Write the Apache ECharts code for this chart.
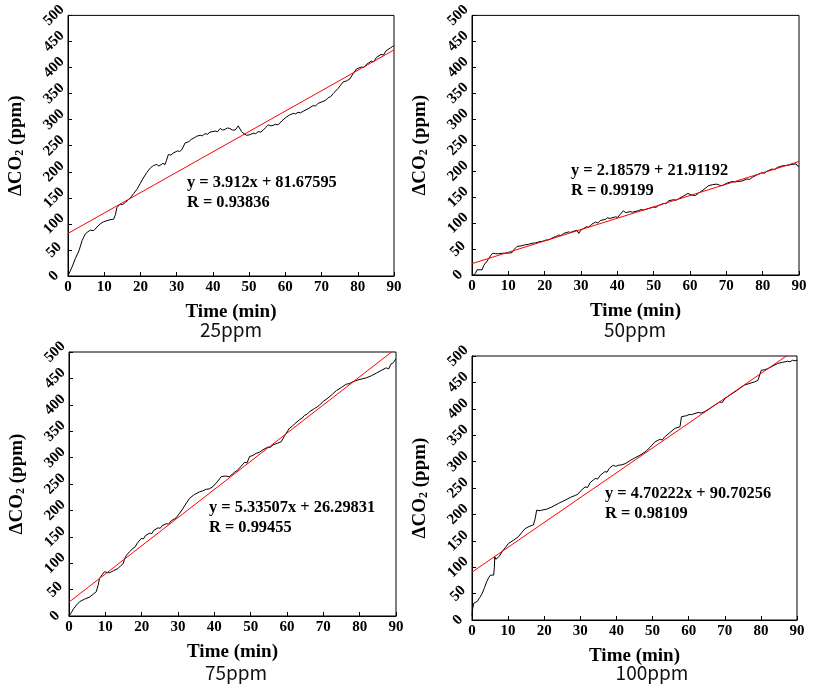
<!DOCTYPE html>
<html>
<head>
<meta charset="utf-8">
<script src="https://cdn.jsdelivr.net/npm/echarts@6/dist/echarts.min.js"></script>
<style>html,body{margin:0;padding:0;background:#fff;}#c{width:813px;height:684px;}</style>
</head>
<body>
<div id="c"></div>
<script>
// ---- data ----
const panelNames = ['25ppm', '50ppm', '75ppm', '100ppm'];
const xTicks = [0, 10, 20, 30, 40, 50, 60, 70, 80, 90];
const yTicks = [0, 50, 100, 150, 200, 250, 300, 350, 400, 450, 500];

const curve25 = [[0,0],[0.5,8],[1.1,17],[2,33],[3,48],[3.9,68],[4.8,81],[5.5,85],[6.2,88],[6.6,86],[7.1,87],[8,94],[8.9,100],[9.8,104],[10.7,106],[11.6,108],[12.6,109],[13.1,118],[13.5,131],[14.4,138],[15.1,137],[15.8,141],[16.5,145],[17.2,150],[18.1,158],[19,166],[19.9,177],[20.8,188],[21.7,198],[22.7,207],[23.6,212],[24.5,214],[25.1,211],[25.6,212],[26.2,216],[26.8,214],[27.2,222],[27.7,233],[28.4,232],[29.1,236],[29.6,234],[30.2,240],[30.8,239],[31.4,242],[32.3,255],[33.4,258],[34,262],[34.6,264],[35.5,268],[36.5,270],[37.1,269],[37.8,273],[38.5,272],[39.2,276],[40.6,278],[41.3,277],[42,283],[42.7,280],[43.3,281],[44,284],[44.7,283],[45.4,280],[46.1,280],[46.6,284],[47,288],[47.5,282],[47.9,277],[48.6,273],[49.3,270],[50.2,271],[51.1,274],[51.8,273],[52.5,277],[53.2,276],[53.9,280],[54.6,285],[55.3,290],[56,288],[56.6,289],[57.3,291],[58,290],[59.1,298],[60.3,305],[61.2,309],[62.2,312],[62.8,311],[63.5,314],[64.2,313],[64.9,316],[66.3,321],[67.7,327],[68.3,326],[69,331],[70.4,335],[71.1,337],[71.8,342],[72.5,344],[73.2,350],[74.6,360],[75.9,372],[76.8,374],[77.8,378],[78.7,388],[79.6,397],[80.3,399],[81,401],[81.7,400],[82.4,406],[83.7,412],[84.4,411],[85.1,419],[86.4,425],[87.1,424],[87.8,432],[88.9,437],[89.5,440],[90,442]];

const curve50 = [[0.5,0],[1,4],[1.4,10],[2.2,10],[2.8,10],[3.2,18],[3.7,23],[4.2,27],[4.6,32],[5.2,38],[5.7,42],[6.5,41],[7.3,41],[8.5,42],[9.7,42],[11,43],[11.7,50],[12.4,55],[13.5,56],[14.5,58],[15,57],[15.5,59],[16.5,61],[17,60],[17.5,62],[18.5,64],[19.5,65],[20.2,67],[20.7,69],[21.2,68],[22.3,72],[23.1,74],[23.9,77],[24.5,76],[25.2,80],[26.6,83],[27.2,82],[27.8,84],[28.9,86],[29.4,80],[29.9,86],[30.3,89],[31.5,93],[32.1,92],[32.8,97],[34,102],[34.6,100],[35.3,105],[36.7,107],[37.3,110],[38,109],[39.5,112],[40.1,111],[40.7,116],[41.7,124],[42.2,120],[42.7,118],[43.5,122],[44.2,121],[45.9,124],[46.5,126],[47.2,125],[48.6,128],[50,131],[50.6,130],[51.4,134],[52.8,138],[53.4,137],[54.1,143],[55.5,145],[56.2,144],[56.9,147],[58.2,152],[59.4,157],[60.5,154],[61.5,153],[62.4,158],[63.3,162],[64.2,167],[65.1,172],[66.2,174],[67.4,175],[68.1,173],[68.8,172],[70.2,177],[71.6,180],[72.3,179],[73,180],[74.3,181],[75.7,185],[76.4,184],[77.1,188],[78.5,193],[79.8,197],[80.5,196],[81.2,200],[82.6,204],[83.3,203],[84,207],[85.3,210],[86.7,211],[88.1,213],[89.2,214],[89.6,210],[90,209]];

const curve75 = [[0,0],[0.6,6],[1.3,14],[2.1,21],[2.9,27],[4.3,32],[5.7,36],[6.6,41],[7.5,46],[8,58],[8.4,71],[9.1,78],[9.8,84],[10.5,82],[11.2,82],[12.3,86],[13.5,90],[14.2,95],[14.9,99],[15.3,108],[15.8,115],[16.7,122],[17.6,128],[18.2,131],[18.8,138],[19.9,147],[20.5,146],[21,152],[22.2,157],[22.8,156],[23.3,162],[24.5,167],[25.1,166],[25.6,171],[26.8,175],[27.4,174],[28.1,180],[29.5,186],[30.5,195],[31.4,204],[32.3,214],[33.2,223],[34.5,230],[35.9,235],[36.8,237],[37.8,240],[38.7,241],[39.6,245],[40.8,254],[41.9,264],[43,265],[44.2,264],[45.5,272],[46.2,275],[46.9,280],[48.3,291],[49,290],[49.7,302],[50.6,304],[51.5,308],[52.4,310],[53.4,315],[54.8,320],[55.4,319],[56.1,324],[57.3,327],[58.4,330],[59.5,343],[60.7,356],[61.4,359],[62.1,364],[63.5,372],[64.2,375],[64.8,380],[65.5,382],[66.2,387],[67.6,393],[68.3,396],[69,400],[70.1,407],[71.3,413],[72.5,420],[73.6,427],[75,433],[76.3,439],[77.1,440],[77.9,443],[79.5,447],[80.6,449],[81.8,451],[83.2,455],[84.6,460],[85.9,465],[87.3,470],[88,468],[88.6,477],[89.3,480],[90,487]];

const curve100 = [[0,8],[0.2,22],[0.5,32],[1,34],[1.4,35],[2.1,42],[2.8,50],[3.5,62],[4.1,73],[4.6,80],[5.1,85],[5.6,84],[6,85],[6.2,100],[6.3,120],[6.6,115],[6.9,113],[7.6,121],[8.3,129],[9.2,137],[10.1,145],[11.5,151],[12.9,158],[13.8,166],[14.7,173],[15.8,177],[17,180],[17.5,192],[17.9,208],[18.6,207],[19.3,208],[20.7,210],[22.1,214],[24,221],[25.8,227],[27.2,232],[28.6,236],[29.3,238],[30,244],[31.3,252],[32,251],[32.7,260],[34.1,268],[34.8,267],[35.5,274],[36.8,281],[37.4,280],[38,287],[39.1,293],[39.8,291],[40.5,293],[41.5,294],[42.4,296],[43.8,302],[45.1,307],[46.5,312],[47.9,318],[49.3,327],[50.6,337],[52,342],[52.7,341],[53.4,347],[54.8,355],[56.2,363],[57.6,366],[58,385],[59.4,387],[60.1,389],[60.8,389],[62.6,393],[63.5,392],[64.5,395],[65.9,401],[67.2,407],[68.6,413],[69.3,412],[70,419],[71.4,426],[72.8,432],[74.2,439],[75.5,445],[76.4,447],[77.3,449],[78.3,451],[79.2,454],[79.7,465],[80.1,473],[81,474],[81.9,476],[83.3,481],[84.7,486],[86,488],[87.4,490],[88.1,489],[88.7,492],[89.4,491],[90,492]];

const fitSlopes = [3.912, 2.18579, 5.33507, 4.70222];
const fitIntercepts = [81.67595, 21.91192, 26.29831, 90.70256];
const eqTexts = ['y = 3.912x + 81.67595', 'y = 2.18579 + 21.91192', 'y = 5.33507x + 26.29831', 'y = 4.70222x + 90.70256'];
const rTexts = ['R = 0.93836', 'R = 0.99199', 'R = 0.99455', 'R = 0.98109'];

// ---- layout ----
const curves = [curve25, curve50, curve75, curve100];
const grids = [
  {left: 68, top: 12, width: 326, height: 264},
  {left: 472, top: 13, width: 327, height: 262},
  {left: 69, top: 352, width: 327, height: 264},
  {left: 472, top: 356, width: 325, height: 264}
];
const eqPos = [[187, 183], [571, 171], [209, 508], [605, 494]];
const subPos = [[231, 330], [635, 330], [236, 673], [652, 673]];

const SERIF = '"Liberation Serif", "Times New Roman", serif';

const option = {
  animation: false,
  backgroundColor: '#fff',
  grid: grids.map(g => Object.assign({show: true, borderColor: '#000', borderWidth: 1, containLabel: false}, g)),
  xAxis: grids.map((g, i) => ({
    type: 'value', gridIndex: i, min: 0, max: 90, interval: 10,
    name: 'Time (min)', nameLocation: 'middle', nameGap: 27,
    nameTextStyle: {fontFamily: SERIF, fontWeight: 'bold', fontSize: 19, color: '#000'},
    axisLine: {show: true, lineStyle: {color: '#000', width: 1}},
    axisTick: {show: true, inside: true, length: 4, lineStyle: {color: '#000'}},
    axisLabel: {fontFamily: SERIF, fontWeight: 'bold', fontSize: 15, color: '#000', margin: 4,
      formatter: v => xTicks.includes(v) ? String(v) : ''},
    splitLine: {show: false}
  })),
  yAxis: grids.map((g, i) => ({
    type: 'value', gridIndex: i, min: 0, max: 500, interval: 50,
    name: '{a|ΔCO}{s|2}{a| (ppm)}', nameLocation: 'middle', nameGap: 42,
    nameTextStyle: {
      color: '#000',
      rich: {
        a: {fontFamily: SERIF, fontWeight: 'bold', fontSize: 19, color: '#000'},
        s: {fontFamily: SERIF, fontWeight: 'bold', fontSize: 12, color: '#000', verticalAlign: 'bottom', padding: [8, 0, 0, 0]}
      }
    },
    axisLine: {show: true, lineStyle: {color: '#000', width: 1}},
    axisTick: {show: true, inside: true, length: 4, lineStyle: {color: '#000'}},
    axisLabel: {fontFamily: SERIF, fontWeight: 'bold', fontSize: 15, color: '#000', rotate: 45, margin: 14,
      align: 'center', verticalAlign: 'middle',
      formatter: v => yTicks.includes(v) ? String(v) : ''},
    splitLine: {show: false}
  })),
  series: [].concat(
    curves.map((c, i) => ({
      type: 'line', xAxisIndex: i, yAxisIndex: i, data: c, showSymbol: false, symbol: 'none',
      lineStyle: {color: '#000', width: 1}, z: 3, clip: true
    })),
    fitSlopes.map((m, i) => ({
      type: 'line', xAxisIndex: i, yAxisIndex: i, showSymbol: false, symbol: 'none',
      data: [[0, fitIntercepts[i]], [90, m * 90 + fitIntercepts[i]]],
      lineStyle: {color: '#ff0000', width: 1}, z: 4, clip: true
    }))
  ),
  graphic: [].concat(
    eqPos.map((p, i) => ({
      type: 'text', left: p[0], top: p[1] - 10, z: 10,
      style: {text: eqTexts[i] + '\n' + rTexts[i], fontFamily: SERIF, fontWeight: 'bold', fontSize: 16.4, lineHeight: 20, fill: '#000'}
    })),
    subPos.map((p, i) => ({
      type: 'text', x: p[0], y: p[1], z: 10,
      style: {text: panelNames[i], fontFamily: '"Noto Sans CJK KR", "Noto Sans", sans-serif', fontSize: 19, fill: '#111', align: 'center', verticalAlign: 'middle'}
    }))
  )
};

const chart = echarts.init(document.getElementById('c'), null, {renderer: 'canvas'});
chart.setOption(option);
</script>
</body>
</html>
